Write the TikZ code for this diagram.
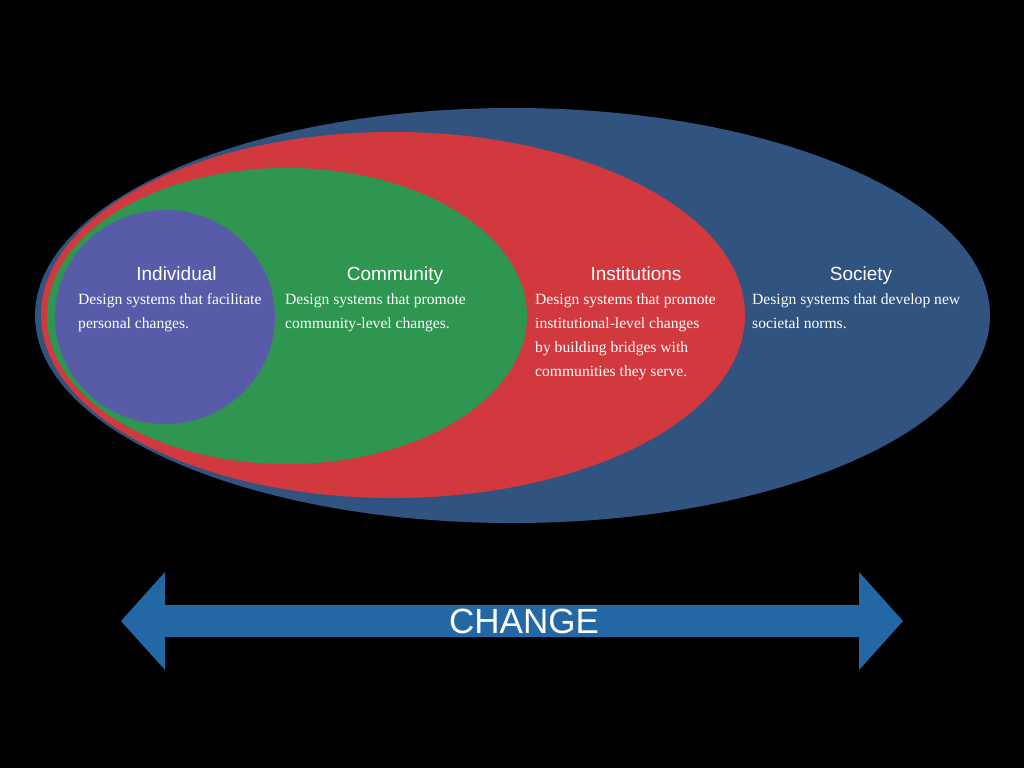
\documentclass[tikz,border=0pt]{standalone}
\usepackage{fontspec}
\setmainfont{Liberation Serif}
\setsansfont{Liberation Sans}
\usetikzlibrary{positioning}
\definecolor{societyblue}{RGB}{49,83,128}
\definecolor{instred}{RGB}{209,57,62}
\definecolor{commgreen}{RGB}{46,150,80}
\definecolor{indpurple}{RGB}{88,92,168}
\definecolor{changeblue}{RGB}{36,103,165}

\begin{document}
\begin{tikzpicture}[
      x=1pt, y=-1pt,
      mytitle/.style={
         text=white,
         anchor=base,
         inner sep=0pt,
         font=\sffamily\fontsize{19}{22}\selectfont},
      mydesc/.style={
         text=white,
         anchor=north west,
         align=left,
         inner sep=0pt,
         font=\fontsize{15.6}{24}\selectfont},
      myarrow/.style={fill=changeblue}
      ]
      \fill[black] (0,0) rectangle (1024,768);

      % nested circles of change
      \fill[societyblue] (512.5,315.5) ellipse [x radius=477.5pt, y radius=207.5pt];
      \fill[instred] (393,315) ellipse [x radius=352pt, y radius=183pt];
      \fill[commgreen] (287,316) ellipse [x radius=240pt, y radius=148pt];
      \fill[indpurple] (165,317) ellipse [x radius=110pt, y radius=107pt];

    \foreach \n/\x/\txt in {% name/centre x/title
      ind/176.5/Individual,
      comm/395/Community,
      inst/636/Institutions,
      soc/861/Society}
       \node[mytitle] (t\n) at (\x,280) {\txt};

    \foreach \n/\x/\txt in {% name/left x/text
      ind/78/{Design systems that facilitate\\personal changes.},
      comm/285/{Design systems that promote\\community-level changes.},
      inst/535/{Design systems that promote\\institutional-level changes\\by building bridges with\\communities they serve.},
      soc/752/{Design systems that develop new\\societal norms.}}
       \node[mydesc] (d\n) at (\x,293.5) {\txt};

     % the change arrow below
     \fill[myarrow] (121,621) -- (165,572) -- (165,605) -- (859,605) -- (859,572)
        -- (903,621) -- (859,670) -- (859,637) -- (165,637) -- (165,670) -- cycle;
     \node[text=white, inner sep=0pt, font=\sffamily\fontsize{35}{40}\selectfont] (change) at (524,621) {CHANGE};
\end{tikzpicture}
\end{document}
